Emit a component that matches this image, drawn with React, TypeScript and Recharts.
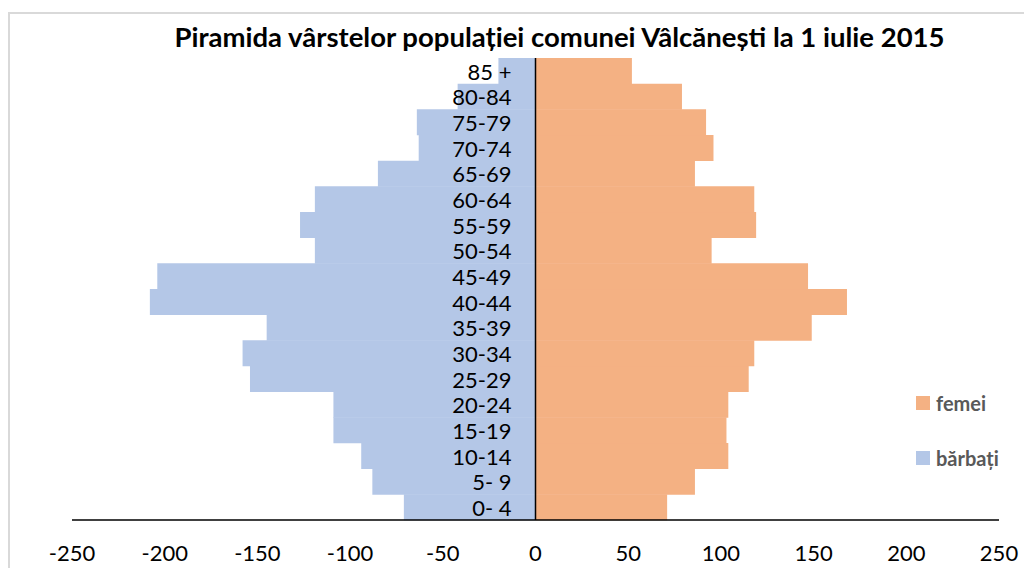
import React from 'react';
import {
  BarChart,
  Bar,
  XAxis,
  YAxis,
  LabelList,
  ReferenceLine,
} from 'recharts';

// age groups, bottom to top
const ages = [
  '0- 4', '5- 9', '10-14', '15-19', '20-24', '25-29', '30-34', '35-39', '40-44',
  '45-49', '50-54', '55-59', '60-64', '65-69', '70-74', '75-79', '80-84', '85 +',
];
const barbati = [71, 88, 94, 109, 109, 154, 158, 145, 208, 204, 119, 127, 119, 85, 63, 64, 42, 20];
const femei = [71, 86, 104, 103, 104, 115, 118, 149, 168, 147, 95, 119, 118, 86, 96, 92, 79, 52];
const xTicks = [-250, -200, -150, -100, -50, 0, 50, 100, 150, 200, 250];

const data = ages.map((age, i) => ({ age, barbati: -barbati[i], femei: femei[i] }));

const colors = { femei: '#f4b183', barbati: '#b4c7e7' };
const legendItems = [
  { key: 'femei', label: 'femei' },
  { key: 'barbati', label: 'bărbați' },
];

const W = 1022;
const H = 554;
const margin = { top: 44, right: 33, left: 62, bottom: 8 };
const font = 'Lato, "Open Sans", sans-serif';

// age label drawn just left of the zero line, on top of the men's bar
const AgeLabel = (props: any) => {
  const { x, y, width, height, value } = props;
  const zero = Math.max(Number(x), Number(x) + Number(width));
  return (
    <text x={zero - 24} y={Number(y) + Number(height) / 2} textAnchor="end"
      dominantBaseline="central" fontSize={22} fill="#000" fontFamily={font}>
      {value}
    </text>
  );
};

export default function App() {
  return (
    <div style={{ paddingTop: 4 }}>
      <div style={{
        position: 'relative', width: 1022, height: 554,
        borderTop: '2px solid #d9d9d9', borderLeft: '2px solid #d9d9d9',
      }}>
        <div style={{
          position: 'absolute', left: 0, width: 1099, top: 6, textAlign: 'center',
          fontFamily: font, fontWeight: 700, fontSize: 27.5, lineHeight: '34px', color: '#000',
          whiteSpace: 'nowrap',
        }}>
          Piramida vârstelor populației comunei Vâlcănești la 1 iulie 2015
        </div>
        <BarChart width={W} height={H} data={data} layout="vertical" margin={margin}
          barCategoryGap={0} stackOffset="sign" style={{ fontFamily: font }}>
          <XAxis type="number" domain={[-250, 250]} ticks={xTicks} tickLine={false}
            axisLine={{ stroke: '#000', strokeWidth: 1.5 }} tickMargin={19} height={40}
            tick={{ fontSize: 22, fill: '#000', fontFamily: font }} />
          <YAxis type="category" dataKey="age" reversed width={0} hide />
          <Bar dataKey="barbati" name="bărbați" stackId="p" fill={colors.barbati} isAnimationActive={false}>
            <LabelList dataKey="age" content={<AgeLabel />} />
          </Bar>
          <Bar dataKey="femei" name="femei" stackId="p" fill={colors.femei} isAnimationActive={false} />
          <ReferenceLine x={0} stroke="#000" strokeWidth={1.5} />
        </BarChart>
        <div style={{ position: 'absolute', left: 906, top: 375 }}>
          {legendItems.map((it) => (
            <div key={it.key} style={{ display: 'flex', alignItems: 'center', height: 28, marginBottom: 27 }}>
              <span style={{ width: 14, height: 14, background: colors[it.key as 'femei' | 'barbati'], display: 'inline-block', marginRight: 6 }} />
              <span style={{ fontFamily: font, fontWeight: 700, fontSize: 20, color: '#595959' }}>{it.label}</span>
            </div>
          ))}
        </div>
      </div>
    </div>
  );
}
